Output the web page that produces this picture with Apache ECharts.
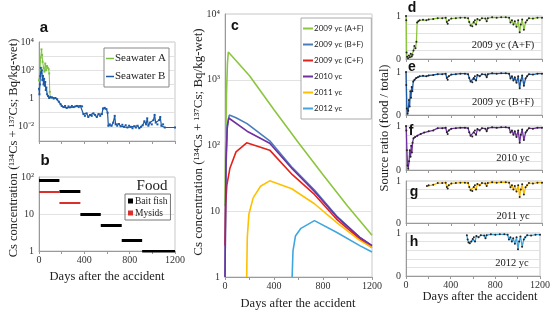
<!DOCTYPE html>
<html>
<head>
<meta charset="utf-8">
<script src="https://cdn.jsdelivr.net/npm/echarts@6/dist/echarts.min.js"></script>
<style>
  html, body { margin: 0; padding: 0; background: #fff; }
  #chart { width: 553px; height: 312px; }
</style>
</head>
<body>
<div id="chart"></div>
<script>
  // ---- panel a: seawater (days, Bq/kg) ----
  const seawaterA = [[0, 20], [8, 100], [15, 800], [22, 3000], [27, 1200], [32, 400], [40, 150], [48, 80], [55, 300],
    [62, 100], [70, 200], [78, 150], [85, 120], [90, 60], [95, 3], [100, 1.2]];
  const seawaterB = [[0, 5], [4, 2], [8, 10], [12, 40], [16, 150], [20, 60], [25, 100], [30, 20], [35, 40], [40, 10],
    [45, 25], [50, 8], [55, 15], [60, 4], [65, 6], [72, 2], [80, 1.5], [90, 1.1], [100, 1.3], [115, 1.2], [130, 1.0],
    [145, 1.1], [160, 0.9], [175, 0.6], [190, 0.4], [200, 0.3], [215, 0.25], [230, 0.3], [245, 0.22], [260, 0.28],
    [275, 0.24], [290, 0.3], [305, 0.25], [320, 0.28], [335, 0.3], [350, 0.25], [365, 0.3], [380, 0.28], [392, 0.08],
    [405, 0.06], [420, 0.09], [435, 0.05], [450, 0.07], [465, 0.06], [480, 0.09], [495, 0.07], [510, 0.05], [525, 0.08],
    [540, 0.06], [555, 0.08], [565, 0.2], [580, 0.22], [595, 0.18], [605, 0.1], [612, 0.012], [625, 0.015], [640, 0.012],
    [655, 0.02], [668, 0.06], [676, 0.015], [690, 0.012], [705, 0.016], [720, 0.011], [735, 0.014], [750, 0.01],
    [765, 0.013], [780, 0.009], [795, 0.012], [810, 0.01], [825, 0.008], [840, 0.011], [855, 0.009], [870, 0.012],
    [885, 0.008], [900, 0.01], [915, 0.013], [930, 0.025], [945, 0.015], [955, 0.04], [965, 0.012], [980, 0.02],
    [995, 0.015], [1010, 0.03], [1020, 0.07], [1030, 0.02], [1045, 0.015], [1060, 0.03], [1070, 0.05], [1080, 0.012],
    [1095, 0.015], [1110, 0.009], [1200, 0.009]];

  // ---- panel b: food concentration steps [from, to, value] ----
  const baitFish = [[0, 180, 80], [180, 365, 40], [365, 545, 10], [545, 730, 5], [730, 910, 2], [910, 1200, 1]];
  const mysids = [[0, 180, 40], [180, 365, 20]];

  // ---- panel c: fish concentration ----
  const c2009AF = [[0, 12], [5, 80], [12, 600], [20, 1800], [27, 2640], [200, 1150], [400, 350], [600, 110], [800, 36],
    [1000, 12], [1200, 4.3]];
  const c2009BF = [[0, 1], [8, 40], [18, 200], [35, 290], [90, 265], [180, 215], [365, 118], [550, 46], [730, 21],
    [910, 8.5], [1100, 4], [1200, 3.0]];
  const c2009CF = [[0, 3], [5, 12], [15, 25], [40, 45], [90, 80], [177, 110], [365, 85], [550, 36], [730, 18],
    [910, 7.6], [1100, 3.8], [1200, 2.8]];
  const c2010 = [[0, 1], [8, 60], [18, 180], [30, 262], [180, 165], [365, 108], [550, 44], [730, 20], [910, 8.3],
    [1100, 4], [1200, 3.0]];
  const c2011 = [[177, 1], [182, 4], [195, 9], [230, 16], [290, 24], [365, 29], [545, 22], [730, 13], [910, 6.8],
    [1100, 3.6], [1200, 2.8]];
  const c2012 = [[548, 1], [555, 2.5], [575, 4.2], [620, 5.5], [730, 7.2], [910, 4.8], [1100, 3.0], [1200, 2.4]];

  // ---- panels d-h: source ratio (food / total) ----
  const ratioLate = [[120, 0.9], [150, 0.91], [180, 0.9], [200, 0.92], [240, 0.93], [280, 0.95], [320, 0.95], [350, 0.96],
    [360, 0.86], [368, 0.82], [378, 0.9], [400, 0.94], [440, 0.95], [480, 0.96], [520, 0.96], [548, 0.95], [558, 0.86],
    [570, 0.78], [585, 0.76], [598, 0.86], [608, 0.9], [618, 0.8], [630, 0.93], [650, 0.9], [670, 0.95], [700, 0.94],
    [712, 0.88], [722, 0.95], [760, 0.97], [800, 0.96], [840, 0.97], [880, 0.97], [910, 0.96], [922, 0.85], [935, 0.9],
    [948, 0.8], [960, 0.88], [975, 0.75], [990, 0.9], [1003, 0.62], [1013, 0.8], [1025, 0.92], [1040, 0.68], [1055, 0.85],
    [1068, 0.9], [1085, 0.95], [1120, 0.94], [1160, 0.96], [1200, 0.96]];
  const ratioEarlyD = [[0, 1], [2, 0.9], [5, 0.15], [10, 0.05], [18, 0.02], [26, 0.08], [34, 0.04], [42, 0.12], [50, 0.06],
    [58, 0.1], [66, 0.2], [74, 0.3], [84, 0.25], [92, 0.4], [98, 0.85], [108, 0.88]];
  const ratioEarlyE = [[0, 1], [3, 0.7], [8, 0.15], [14, 0.03], [20, 0.1], [26, 0.35], [32, 0.2], [38, 0.55], [44, 0.4],
    [50, 0.65], [56, 0.55], [64, 0.78], [75, 0.82], [90, 0.86], [105, 0.88]];
  const ratioEarlyF = [[0, 1], [3, 0.9], [8, 0.45], [14, 0.1], [20, 0.03], [27, 0.2], [33, 0.45], [40, 0.3], [46, 0.55],
    [52, 0.4], [58, 0.62], [66, 0.72], [80, 0.75], [100, 0.78], [130, 0.82], [160, 0.85], [200, 0.88], [240, 0.9]];
  const ratioEarlyG = [[185, 0.88], [200, 0.9], [240, 0.91]];
  const ratioEarlyH = [[545, 0.95], [552, 0.85], [560, 0.78], [572, 0.76], [585, 0.8]];

  const ratioD = ratioEarlyD.concat(ratioLate);
  const ratioE = ratioEarlyE.concat(ratioLate);
  const ratioF = ratioEarlyF.concat(ratioLate.filter(p => p[0] >= 280));
  const ratioG = ratioEarlyG.concat(ratioLate.filter(p => p[0] >= 280));
  const ratioH = ratioEarlyH.concat(ratioLate.filter(p => p[0] >= 598));

  const serif = 'Liberation Serif';
  const sans = 'Liberation Sans';
  const axisGrey = '#9a9a9a';
  const gridGrey = '#e2e2e2';

  const supMap = {'-': '⁻', '0': '⁰', '1': '¹', '2': '²', '3': '³', '4': '⁴'};
  function powLabel(v) {
    let e = Math.round(Math.log10(v));
    if (e === 0) return '1';
    if (e === 1) return '10';
    return '10' + String(e).split('').map(c => supMap[c]).join('');
  }

  let chart = echarts.init(document.getElementById('chart'));

  // grids: a, b, c, d, e, f, g, h
  let grids = [
    {left: 39, top: 42, width: 136, height: 99},
    {left: 39, top: 177, width: 136, height: 74},
    {left: 225, top: 14, width: 147, height: 263},
    {left: 406, top: 16, width: 136, height: 43},
    {left: 406, top: 72, width: 136, height: 43},
    {left: 406, top: 126, width: 136, height: 44},
    {left: 406, top: 181, width: 136, height: 42},
    {left: 406, top: 233, width: 136, height: 43}
  ].map(g => Object.assign({show: true, borderColor: '#c8c8c8', borderWidth: 1}, g));

  function dayAxis(gi, showLabels) {
    return {
      type: 'value', gridIndex: gi, min: 0, max: 1200, interval: 200,
      axisLine: {show: true, lineStyle: {color: axisGrey}},
      axisTick: {show: true, length: 3, inside: false, lineStyle: {color: axisGrey}},
      splitLine: {show: false},
      axisLabel: {
        show: showLabels, fontFamily: serif, fontSize: 10, color: '#333', margin: 4,
        formatter: v => (v % 400 === 0 ? String(v) : '')
      }
    };
  }

  function logAxis(gi, min, max, labelFn) {
    return {
      type: 'log', logBase: 10, gridIndex: gi, min: min, max: max, interval: 1,
      axisLine: {show: true, lineStyle: {color: axisGrey}},
      axisTick: {show: false},
      splitLine: {show: true, lineStyle: {color: gridGrey}},
      axisLabel: {fontFamily: serif, fontSize: 10, color: '#333', margin: 5, formatter: labelFn}
    };
  }

  function ratioAxis(gi) {
    return {
      type: 'value', gridIndex: gi, min: 0, max: 1, interval: 0.2,
      axisLine: {show: true, lineStyle: {color: axisGrey}},
      axisTick: {show: false},
      splitLine: {show: true, lineStyle: {color: gridGrey}},
      axisLabel: {
        fontFamily: serif, fontSize: 10, color: '#333', margin: 5,
        formatter: v => (v === 0 || v === 1 ? String(v) : '')
      }
    };
  }

  let xAxes = [dayAxis(0, false), dayAxis(1, true), dayAxis(2, true),
    dayAxis(3, false), dayAxis(4, false), dayAxis(5, false), dayAxis(6, false), dayAxis(7, true)];
  let yAxes = [
    logAxis(0, 0.001, 10000, v => (Math.round(Math.log10(v)) % 2 === 0 ? powLabel(v) : '')),
    logAxis(1, 1, 100, powLabel),
    logAxis(2, 1, 10000, powLabel),
    ratioAxis(3), ratioAxis(4), ratioAxis(5), ratioAxis(6), ratioAxis(7)
  ];

  function stepLines(name, steps, color, width) {
    return {
      name: name, type: 'lines', coordinateSystem: 'cartesian2d', xAxisIndex: 1, yAxisIndex: 1,
      lineStyle: {color: color, width: width, opacity: 1},
      itemStyle: {color: color},
      data: steps.map(s => ({coords: [[s[0], s[2]], [s[1], s[2]]]}))
    };
  }

  function fishLine(name, data, color) {
    return {
      name: name, type: 'line', xAxisIndex: 2, yAxisIndex: 2, data: data, showSymbol: false,
      lineStyle: {color: color, width: 1.6}, itemStyle: {color: color}
    };
  }

  function ratioLine(idx, data, color) {
    return {
      type: 'line', xAxisIndex: idx, yAxisIndex: idx, data: data,
      symbol: 'circle', symbolSize: 2, showSymbol: true,
      lineStyle: {color: color, width: 1.3}, itemStyle: {color: '#222'}
    };
  }

  const cGreen = '#8cc63f', cBlue = '#4a7ebb', cRed = '#e2231a', cPurple = '#7030a0', cYellow = '#ffc000', cLight = '#41a6e0';
  const seaBlue = '#1c5aa6';

  let series = [
    {
      name: 'Seawater A', type: 'line', xAxisIndex: 0, yAxisIndex: 0, data: seawaterA,
      symbol: 'rect', symbolSize: 2, lineStyle: {color: '#7cc242', width: 1}, itemStyle: {color: '#7cc242'}
    },
    {
      name: 'Seawater B', type: 'line', xAxisIndex: 0, yAxisIndex: 0, data: seawaterB,
      symbol: 'rect', symbolSize: 2, lineStyle: {color: seaBlue, width: 1.2}, itemStyle: {color: seaBlue}
    },
    stepLines('Bait fish', baitFish, '#000', 3),
    stepLines('Mysids', mysids, '#d9302c', 2),
    fishLine('2009 yc (A+F)', c2009AF, cGreen),
    fishLine('2009 yc (B+F)', c2009BF, cBlue),
    fishLine('2009 yc (C+F)', c2009CF, cRed),
    fishLine('2010 yc', c2010, cPurple),
    fishLine('2011 yc', c2011, cYellow),
    fishLine('2012 yc', c2012, cLight),
    ratioLine(3, ratioD, cGreen),
    ratioLine(4, ratioE, seaBlue),
    ratioLine(5, ratioF, cPurple),
    ratioLine(6, ratioG, '#f5b800'),
    ratioLine(7, ratioH, cLight)
  ];

  let legends = [
    {
      data: ['Seawater A', 'Seawater B'], orient: 'vertical', left: 104, top: 48,
      backgroundColor: '#fff', borderColor: '#888', borderWidth: 1, padding: [5, 3, 5, 2],
      icon: 'rect', itemWidth: 8, itemHeight: 1.5, itemGap: 7, selectedMode: false,
      textStyle: {fontFamily: serif, fontSize: 11, color: '#222', padding: [0, 0, 0, -4]}
    },
    {
      data: [{name: 'Bait fish', itemStyle: {color: '#000'}}, {name: 'Mysids', itemStyle: {color: '#d9302c'}}],
      orient: 'vertical', left: 125, top: 194, icon: 'rect', itemWidth: 3, itemHeight: 3, itemGap: 2,
      borderColor: '#777', borderWidth: 1, padding: [2, 3, 2, 3], selectedMode: false,
      textStyle: {fontFamily: serif, fontSize: 9.5, color: '#222', padding: [0, 0, 0, -2]}
    },
    {
      data: ['2009 yc (A+F)', '2009 yc (B+F)', '2009 yc (C+F)', '2010 yc', '2011 yc', '2012 yc'],
      orient: 'vertical', left: 301, top: 18, icon: 'rect', itemWidth: 10, itemHeight: 2, itemGap: 5,
      backgroundColor: '#fff', borderColor: '#aaa', borderWidth: 1, padding: [5, 8, 5, 2], selectedMode: false,
      textStyle: {fontFamily: 'Lato', fontSize: 8, color: '#222', lineHeight: 11, padding: [0, 0, 0, -4]}
    }
  ];

  function txt(x, y, text, size, opts) {
    return {
      type: 'text', x: x, y: y, rotation: (opts && opts.rot) || 0, z: 100,
      style: Object.assign({
        text: text, fontFamily: serif, fontSize: size, fill: '#222',
        textAlign: 'center', textVerticalAlign: 'middle'
      }, (opts && opts.style) || {})
    };
  }
  const bold = {fontFamily: sans, fontWeight: 'bold', fill: '#111'};

  let graphics = [
    txt(14, 148, 'Cs concentration (¹³⁴Cs + ¹³⁷Cs; Bq/kg-wet)', 12.5, {rot: Math.PI / 2}),
    txt(199, 142, 'Cs concentration (¹³⁴Cs + ¹³⁷Cs; Bq/kg-wet)', 13, {rot: Math.PI / 2}),
    txt(385, 128, 'Source ratio (food / total)', 12.5, {rot: Math.PI / 2}),
    txt(107, 277, 'Days after the accident', 12.5),
    txt(298, 304, 'Days after the accident', 12.5),
    txt(480, 297, 'Days after the accident', 12.5),
    txt(152, 186, 'Food', 15),
    txt(503, 45, '2009 yc (A+F)', 10.5),
    txt(503, 102, '2009 yc (B+F)', 10.5),
    txt(513, 158, '2010 yc', 10.5),
    txt(513, 216, '2011 yc', 10.5),
    txt(512, 263, '2012 yc', 10.5),
    txt(44, 28, 'a', 15, {style: bold}),
    txt(45, 161, 'b', 15, {style: bold}),
    txt(235, 26, 'c', 14, {style: bold}),
    txt(412, 8, 'd', 14, {style: bold}),
    txt(412, 67, 'e', 14, {style: bold}),
    txt(411, 131, 'f', 14, {style: bold}),
    txt(414, 192, 'g', 14, {style: bold}),
    txt(414, 242, 'h', 14, {style: bold})
  ];

  let option = {
    animation: false,
    backgroundColor: '#fff',
    grid: grids,
    xAxis: xAxes,
    yAxis: yAxes,
    legend: legends,
    graphic: graphics,
    series: series
  };
  chart.setOption(option);
</script>
</body>
</html>
